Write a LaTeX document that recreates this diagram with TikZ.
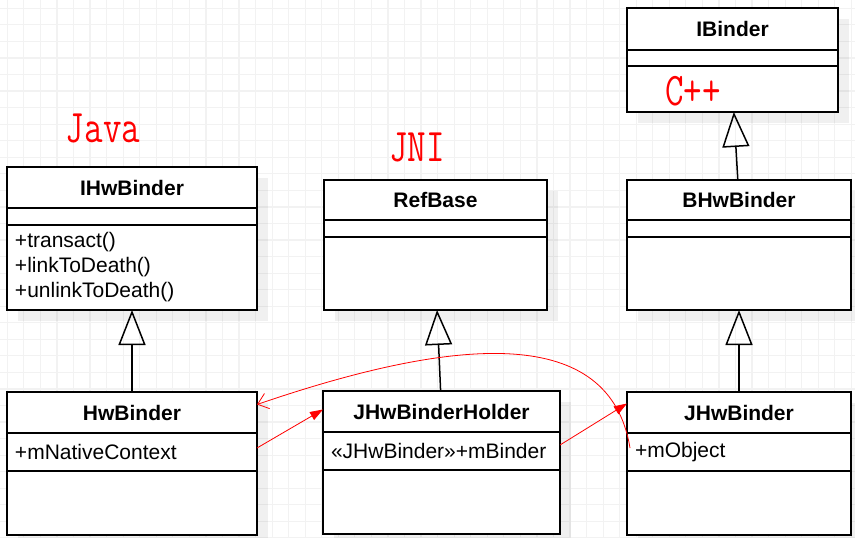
\documentclass[tikz,border=0pt]{standalone}
\usepackage{fontspec}
\setsansfont{Liberation Sans}
\usepackage{graphicx}
\usepackage{tikz}
\usetikzlibrary{arrows.meta, positioning, shadows}
\tikzstyle{uml.box} = [rectangle, draw=black, line width=1.5pt, fill=white, outer sep=0pt, inner sep=0pt, font=\sffamily\fontsize{21}{25}\selectfont, drop shadow={shadow xshift=11pt, shadow yshift=-11pt, fill=black, opacity=0.06}]
\tikzstyle{uml.head} = [uml.box, font=\sffamily\bfseries\fontsize{21}{25}\selectfont]
\tikzstyle{uml.part} = [uml.box, align=left, inner xsep=8pt]
\tikzstyle{uml.inherit} = [-{Triangle[open, length=35pt, width=27pt]}, line width=1.5pt]
\tikzstyle{ref.flow} = [-{Triangle[length=13pt, width=9pt]}, red, line width=0.8pt]
\tikzstyle{ref.back} = [-{Straight Barb[length=10pt, width=16pt]}, red, line width=0.8pt]
\tikzstyle{lang.label} = [red, inner sep=0pt, font=\ttfamily\fontsize{36}{40}\selectfont]
\tikzstyle{grid.line} = [draw=black!5, line width=1.2pt, step=16.55pt]

\begin{document}
\begin{tikzpicture}[x=1pt, y=-1pt]
\useasboundingbox (0,0) rectangle (855,538);
\draw[grid.line, shift={(7.3,8.3)}] (-7,-8) grid (848,530);

% Java
\node[uml.head, minimum width=250pt, minimum height=41pt, anchor=north west] (ihwbinder) at (7,167) {IHwBinder};
\node[uml.part, text width=234pt, minimum height=17pt, below=0pt of ihwbinder] (ihwbinder_attr) {};
\node[uml.part, text width=234pt, minimum height=85pt, below=0pt of ihwbinder_attr] (ihwbinder_ops) {+transact()\\+linkToDeath()\\+unlinkToDeath()};

\node[uml.head, minimum width=250pt, minimum height=41pt, anchor=north west] (hwbinder) at (7,392) {HwBinder};
\node[uml.part, text width=234pt, minimum height=38pt, below=0pt of hwbinder] (hwbinder_attr) {+mNativeContext};
\node[uml.part, text width=234pt, minimum height=64pt, below=0pt of hwbinder_attr] (hwbinder_ops) {};

% JNI
\node[uml.head, minimum width=223pt, minimum height=40pt, anchor=north west] (refbase) at (324,180) {RefBase};
\node[uml.part, text width=207pt, minimum height=17pt, below=0pt of refbase] (refbase_attr) {};
\node[uml.part, text width=207pt, minimum height=73pt, below=0pt of refbase_attr] (refbase_ops) {};

\node[uml.head, minimum width=237pt, minimum height=41pt, anchor=north west] (jhwbinderholder) at (323,391) {JHwBinderHolder};
\node[uml.part, text width=221pt, minimum height=38pt, below=0pt of jhwbinderholder] (jhwbinderholder_attr) {«JHwBinder»+mBinder};
\node[uml.part, text width=221pt, minimum height=64pt, below=0pt of jhwbinderholder_attr] (jhwbinderholder_ops) {};

% C++
\node[uml.head, minimum width=211pt, minimum height=42pt, anchor=north west] (ibinder) at (627,8) {IBinder};
\node[uml.part, text width=195pt, minimum height=16pt, below=0pt of ibinder] (ibinder_attr) {};
\node[uml.part, text width=195pt, minimum height=46pt, below=0pt of ibinder_attr] (ibinder_ops) {};

\node[uml.head, minimum width=224pt, minimum height=40pt, anchor=north west] (bhwbinder) at (627,180) {BHwBinder};
\node[uml.part, text width=208pt, minimum height=17pt, below=0pt of bhwbinder] (bhwbinder_attr) {};
\node[uml.part, text width=208pt, minimum height=73pt, below=0pt of bhwbinder_attr] (bhwbinder_ops) {};

\node[uml.head, minimum width=224pt, minimum height=41pt, anchor=north west] (jhwbinder) at (627,392) {JHwBinder};
\node[uml.part, text width=208pt, minimum height=38pt, below=0pt of jhwbinder] (jhwbinder_attr) {+mObject};
\node[uml.part, text width=208pt, minimum height=64pt, below=0pt of jhwbinder_attr] (jhwbinder_ops) {};

\node[lang.label] (java) at (103,128) {\scalebox{1}[1.3]{Java}};
\node[lang.label] (jni) at (417,147) {\scalebox{1}[1.3]{JNI}};
\node[lang.label] (cpp) at (693,91) {\scalebox{1}[1.3]{C++}};

\draw[uml.inherit] (hwbinder) -- (ihwbinder_ops);
\draw[uml.inherit] (jhwbinderholder) -- (refbase_ops);
\draw[uml.inherit] (bhwbinder) -- (ibinder_ops);
\draw[uml.inherit] (jhwbinder) -- (bhwbinder_ops);

\draw[ref.flow] ([yshift=4pt]hwbinder_attr.east) -- ([yshift=2pt]jhwbinderholder.west);
\draw[ref.flow] ([yshift=6pt]jhwbinderholder_attr.east) -- ([yshift=9pt]jhwbinder.west);
\draw[ref.back] ([xshift=3pt, yshift=4pt]jhwbinder_attr.west) .. controls (610,325) and (460,335) .. ([yshift=8pt]hwbinder.east);
\end{tikzpicture}
\end{document}
